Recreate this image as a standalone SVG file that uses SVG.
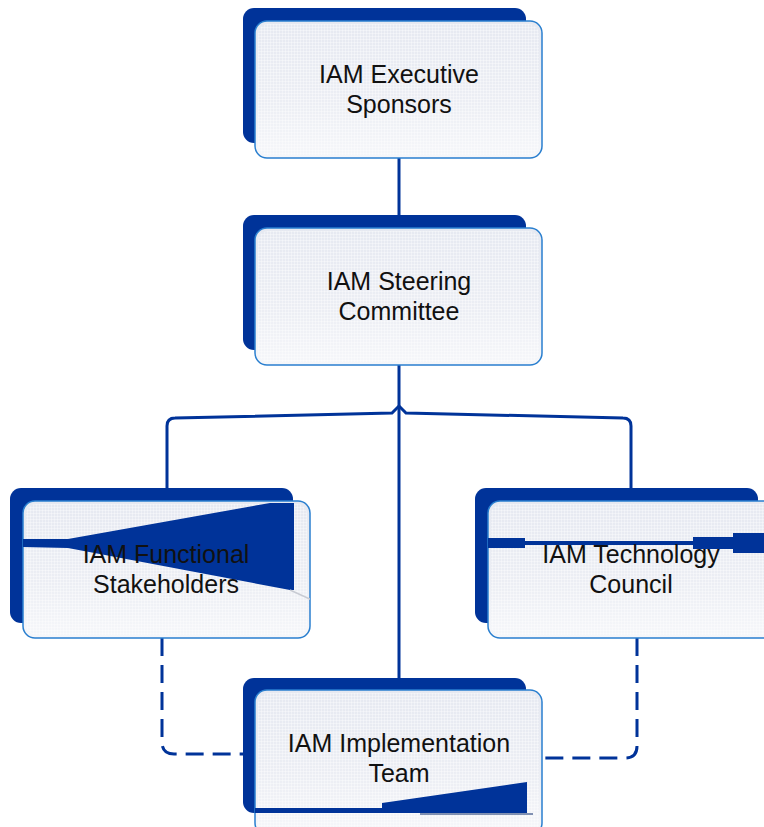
<svg xmlns="http://www.w3.org/2000/svg" width="764" height="827" viewBox="0 0 764 827">
  <style>
    .shadow { fill: #003399; }
    .card { fill: url(#cardFill); stroke: #2a7fcf; stroke-width: 1.5; }
    .tex { fill: url(#grid); }
    .deco { fill: #003399; }
    .label { font-family: "Liberation Sans", Arial, sans-serif; font-size: 25px; fill: #111; text-anchor: middle; }
    .solid { fill: none; stroke: #003399; stroke-width: 3; }
    .dashed { fill: none; stroke: #003399; stroke-width: 3; stroke-dasharray: 18 9; }
  </style>
  <defs>
    <linearGradient id="cardFill" x1="0" y1="0" x2="0" y2="1">
      <stop offset="0" stop-color="#e6e9f1"/>
      <stop offset="0.6" stop-color="#eceef4"/>
      <stop offset="1" stop-color="#f6f7fa"/>
    </linearGradient>
    <pattern id="grid" width="3" height="3" patternUnits="userSpaceOnUse">
      <rect x="0" y="0" width="3" height="1" fill="#ffffff" fill-opacity="0.35"/>
      <rect x="0" y="0" width="1" height="3" fill="#ffffff" fill-opacity="0.35"/>
    </pattern>
    <clipPath id="clipF"><rect x="23" y="501" width="287" height="137" rx="12"/></clipPath>
    <clipPath id="clipT"><rect x="488" y="501" width="290" height="137" rx="12"/></clipPath>
    <clipPath id="clipI"><rect x="255" y="690" width="287" height="145" rx="12"/></clipPath>
  </defs>

  <g id="connectors">
    <line class="solid" x1="399" y1="150" x2="399" y2="230"/>
    <line class="solid" x1="399" y1="360" x2="399" y2="682"/>
    <path class="solid" d="M167,490 V426 Q167,418 175,418 L392,413 L399,406 L406,413 L623,418 Q631,418 631,426 V490"/>
    <path class="dashed" d="M162,638 V742 Q162,754 174,754 H245"/>
    <path class="dashed" d="M637,638 V746 Q637,758 625,758 H542"/>
  </g>

  <g id="node-executive">
    <rect class="shadow" x="243" y="8" width="283" height="135" rx="11"/>
    <rect class="card" x="255" y="21" width="287" height="137" rx="12"/>
    <rect class="tex" x="258" y="24" width="281" height="131" rx="10"/>
    <text class="label" x="399" y="83">IAM Executive</text>
    <text class="label" x="399" y="113">Sponsors</text>
  </g>

  <g id="node-steering">
    <rect class="shadow" x="243" y="215" width="283" height="135" rx="11"/>
    <rect class="card" x="255" y="228" width="287" height="137" rx="12"/>
    <rect class="tex" x="258" y="231" width="281" height="131" rx="10"/>
    <text class="label" x="399" y="290">IAM Steering</text>
    <text class="label" x="399" y="320">Committee</text>
  </g>

  <g id="node-functional">
    <rect class="shadow" x="10" y="488" width="283" height="135" rx="11"/>
    <rect class="card" x="23" y="501" width="287" height="137" rx="12"/>
    <rect class="tex" x="26" y="504" width="281" height="131" rx="10"/>
    <g clip-path="url(#clipF)">
      <polygon class="deco" points="23,539 68,539 270,503 294,503 294,590 290,590 68,548 23,547"/>
      <line x1="290" y1="590" x2="312" y2="600" stroke="#c8cbd3" stroke-width="1.5"/>
    </g>
    <text class="label" x="166" y="563">IAM Functional</text>
    <text class="label" x="166" y="593">Stakeholders</text>
  </g>

  <g id="node-technology">
    <rect class="shadow" x="475" y="488" width="283" height="135" rx="11"/>
    <rect class="card" x="488" y="501" width="290" height="137" rx="12"/>
    <rect class="tex" x="491" y="504" width="284" height="131" rx="10"/>
    <g clip-path="url(#clipT)">
      <rect class="deco" x="488" y="538" width="37" height="10"/>
      <rect class="deco" x="525" y="541" width="168" height="4"/>
      <rect class="deco" x="693" y="537" width="40" height="12"/>
      <rect class="deco" x="733" y="533" width="35" height="20"/>
    </g>
    <text class="label" x="631" y="563">IAM Technology</text>
    <text class="label" x="631" y="593">Council</text>
  </g>

  <g id="node-implementation">
    <rect class="shadow" x="243" y="678" width="283" height="135" rx="11"/>
    <rect class="card" x="255" y="690" width="287" height="145" rx="12"/>
    <rect class="tex" x="258" y="693" width="281" height="140" rx="10"/>
    <g clip-path="url(#clipI)">
      <polygon class="deco" points="255,808 382,808 382,803 527,782 527,813 255,813"/>
      <line x1="420" y1="814" x2="533" y2="814" stroke="#0a2a6a" stroke-width="1"/>
    </g>
    <text class="label" x="399" y="752">IAM Implementation</text>
    <text class="label" x="399" y="782">Team</text>
  </g>
</svg>
